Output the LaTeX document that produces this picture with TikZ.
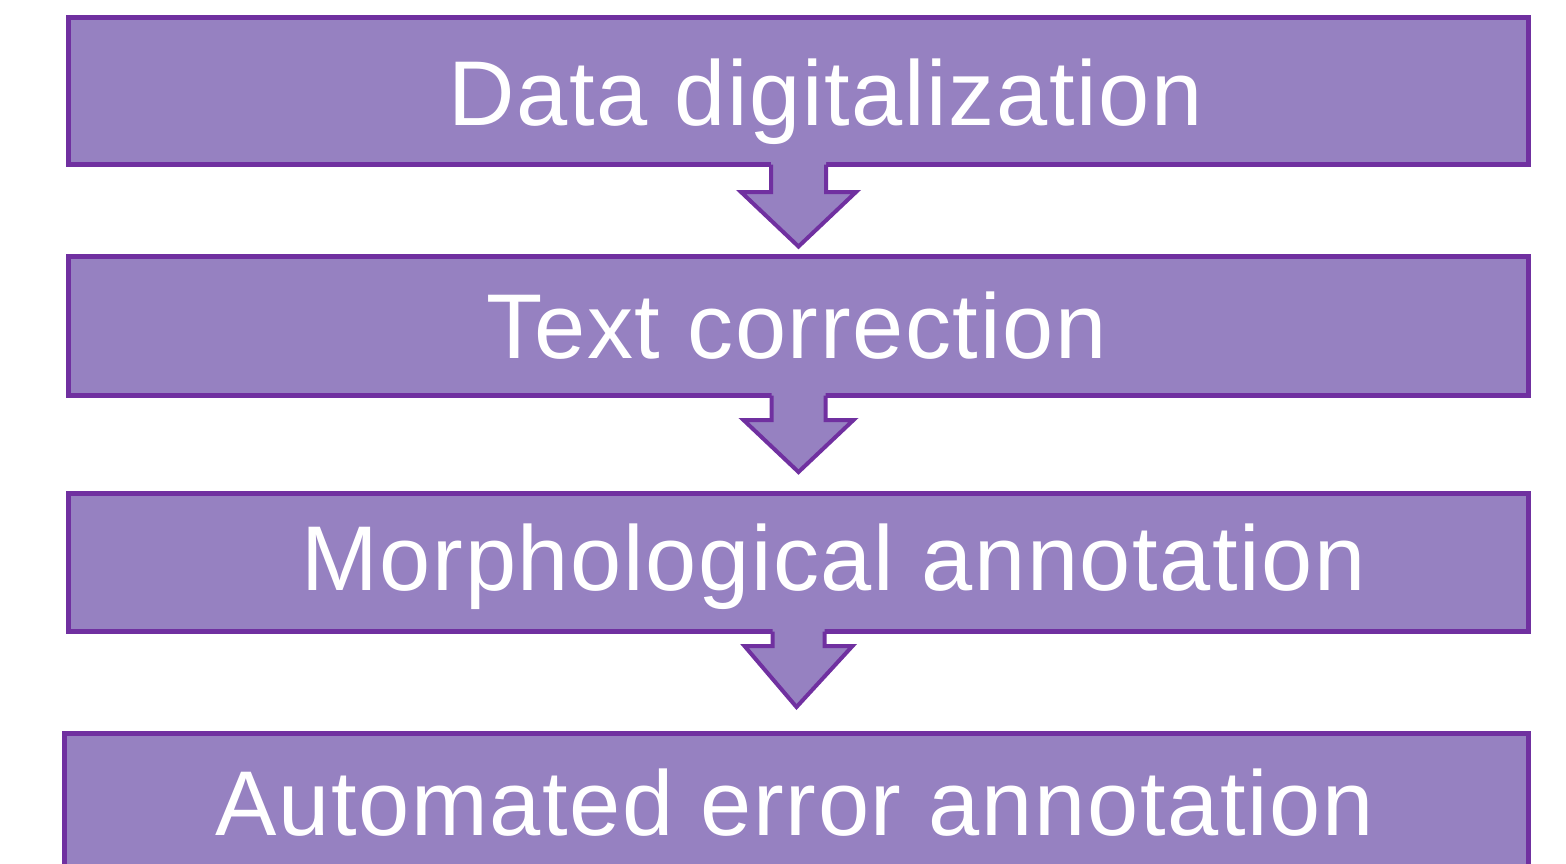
\documentclass[tikz,border=0pt]{standalone}
\usepackage{fontspec}
\setmainfont{Liberation Sans}[LetterSpace=1.8]
\usetikzlibrary{calc}
\definecolor{boxfill}{HTML}{9681C1}
\definecolor{boxline}{HTML}{7030A0}
\tikzset{
  stage/.style={draw=boxline, fill=boxfill, line width=5pt, rectangle, inner sep=0pt, outer sep=0pt},
  stagetext/.style={text=white, font=\fontsize{92}{110}\selectfont, inner sep=0pt, anchor=base},
  flowfill/.style={fill=boxfill, draw=none},
  flowline/.style={draw=boxline, line width=4pt, line join=miter}
}
\begin{document}
\begin{tikzpicture}[x=1pt,y=-1pt]
\useasboundingbox (0,0) rectangle (1566,864);
\clip (0,0) rectangle (1566,864);
\node[stage, minimum width=1460pt, minimum height=147pt] (b1) at (798.5,91) {};
\node[stage, minimum width=1460pt, minimum height=139pt] (b2) at (798.5,326) {};
\node[stage, minimum width=1460pt, minimum height=138pt] (b3) at (798.5,562.5) {};
\node[stage, minimum width=1464pt, minimum height=150pt] (b4) at (796.5,808.5) {};
% arrows
\foreach \a/\b/\s/\hy/\hw/\ty in {b1/b2/27.5/27.5/57.5/10, b2/b3/27/24.5/55/21.5, b3/b4/26/14.5/54/26.5}{
  \fill[flowfill] ($(\a.south)+(-\s,-4)$) -- ($(\a.south)+(-\s,\hy)$) -- ($(\a.south)+(-\hw,\hy)$)
     -- ($(\b.north)+(0,-\ty)$) -- ($(\a.south)+(\hw,\hy)$) -- ($(\a.south)+(\s,\hy)$) -- ($(\a.south)+(\s,-4)$) -- cycle;
  \draw[flowline] ($(\a.south)+(-\s,0)$) -- ($(\a.south)+(-\s,\hy)$) -- ($(\a.south)+(-\hw,\hy)$)
     -- ($(\b.north)+(0,-\ty)$) -- ($(\a.south)+(\hw,\hy)$) -- ($(\a.south)+(\s,\hy)$) -- ($(\a.south)+(\s,0)$);
}
\node[stagetext] (t1) at (825.5,126) {Data digitalization};
\node[stagetext] (t2) at (796.5,358) {Text correction};
\node[stagetext] (t3) at (834,590) {Morphological annotation};
\node[stagetext] (t4) at (794.5,835) {Automated error annotation};
\end{tikzpicture}
\end{document}
